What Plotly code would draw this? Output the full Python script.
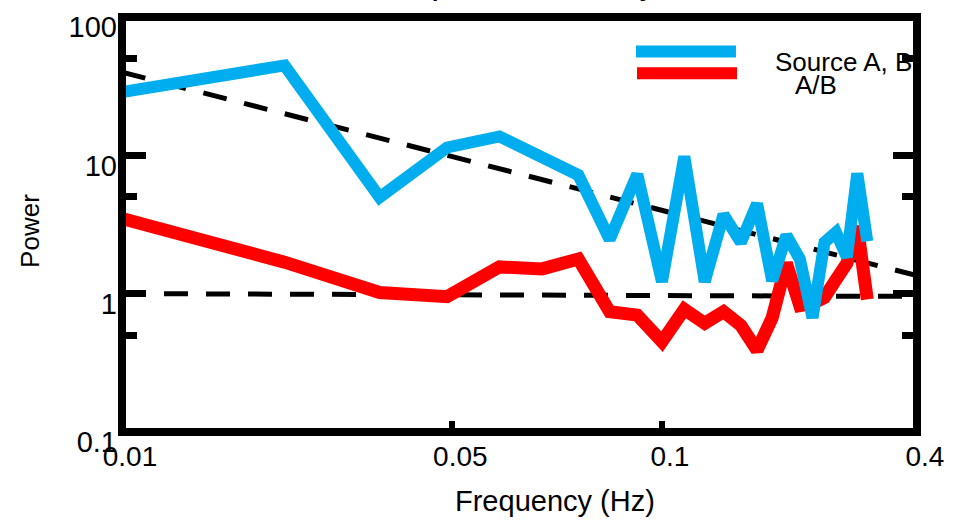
import plotly.graph_objects as go

# ---- data ----
freq = [0.01, 0.02, 0.03, 0.04, 0.05, 0.06, 0.07, 0.08, 0.09, 0.10, 0.11, 0.12,
        0.13, 0.14, 0.15, 0.16, 0.17, 0.18, 0.19, 0.20, 0.21, 0.22, 0.23, 0.24]
source_ab = [28.7, 44.7, 4.97, 11.4, 13.7, 9.5, 7.2, 2.47, 7.3, 1.22, 9.8, 1.22,
             3.73, 2.35, 4.47, 1.24, 2.64, 1.78, 0.67, 2.35, 2.77, 1.84, 7.4, 2.39]
ratio_ab = [3.49, 1.69, 1.02, 0.95, 1.56, 1.51, 1.78, 0.74, 0.70, 0.45, 0.77, 0.61,
            0.74, 0.59, 0.39, 0.67, 1.66, 0.82, 0.85, 0.94, 1.26, 1.66, 3.06, 0.91]
fit_x = [0.01, 0.2966]
fit_slope_y = [40.0, 1.35]
fit_flat_y = [1.0, 0.955]

xtick_vals = [0.01, 0.0409, 0.1, 0.2966]
xtick_text = ["0.01", "0.05", "0.1", "0.4"]
ytick_vals = [0.1, 1, 10, 100]
ytick_text = ["0.1", "1", "10", "100"]
yminor_vals = [0.5, 5, 50]

series_names = ["Source A, B", "A/B"]
BLUE = "#00AEEF"
RED = "#FF0000"
FONT = "Liberation Sans, Arial, sans-serif"

fig = go.Figure()
dash = "24px,18px"
fig.add_trace(go.Scatter(x=fit_x, y=fit_slope_y, mode="lines",
                         line=dict(color="black", width=5, dash=dash), showlegend=False))
fig.add_trace(go.Scatter(x=fit_x, y=fit_flat_y, mode="lines",
                         line=dict(color="black", width=5, dash=dash), showlegend=False))
fig.add_trace(go.Scatter(x=freq, y=ratio_ab, mode="lines", name=series_names[1],
                         line=dict(color=RED, width=13), showlegend=False))
fig.add_trace(go.Scatter(x=freq, y=source_ab, mode="lines", name=series_names[0],
                         line=dict(color=BLUE, width=12), showlegend=False))

xr = [-2.0, -0.5277]
fig.update_layout(
    width=968, height=520,
    margin=dict(l=122, r=51, t=11, b=88),
    paper_bgcolor="white", plot_bgcolor="white",
    font=dict(family=FONT, size=28, color="black"),
    showlegend=False,
    xaxis=dict(type="log", range=xr, showgrid=False, zeroline=False, showline=False,
               tickmode="array", tickvals=xtick_vals, ticktext=xtick_text,
               ticks="inside", ticklen=11, tickwidth=6, tickcolor="black",
               ticklabelshift=8, ticklabelstandoff=5,
               tickfont=dict(family=FONT, size=28, color="black")),
    xaxis2=dict(type="log", range=xr, overlaying="x", anchor="y", side="bottom",
                showgrid=False, zeroline=False, showline=False, showticklabels=False,
                tickmode="array", tickvals=[0.1], ticks="inside", ticklen=17,
                tickwidth=6, tickcolor="black"),
    yaxis=dict(type="log", range=[-1.0005, 2.0005], showgrid=False, zeroline=False,
               showline=False,
               tickmode="array", tickvals=ytick_vals, ticktext=ytick_text,
               ticks="inside", ticklen=24, tickwidth=7, tickcolor="black",
               mirror="allticks", ticklabelshift=10, ticklabelstandoff=4,
               minor=dict(tickmode="array", tickvals=yminor_vals, ticks="inside",
                          ticklen=15, tickwidth=7, tickcolor="black", showgrid=False),
               tickfont=dict(family=FONT, size=29, color="black")),
)

# frame
fig.add_shape(type="rect", xref="paper", yref="paper", x0=0, x1=1, y0=0, y1=1,
              line=dict(color="black", width=8), layer="above")

# legend (line samples + labels)
fig.add_shape(type="line", xref="paper", yref="paper", x0=0.6465, x1=0.7723,
              y0=0.9169, y1=0.9169, line=dict(color=BLUE, width=12))
fig.add_shape(type="line", xref="paper", yref="paper", x0=0.6478, x1=0.7736,
              y0=0.8646, y1=0.8646, line=dict(color=RED, width=12))
fig.add_annotation(text=series_names[0], xref="paper", yref="paper", x=0.8189, y=0.8907,
                   xanchor="left", yanchor="middle", showarrow=False,
                   font=dict(family=FONT, size=26, color="black"))
fig.add_annotation(text=series_names[1], xref="paper", yref="paper", x=0.844, y=0.836,
                   xanchor="left", yanchor="middle", showarrow=False,
                   font=dict(family=FONT, size=26, color="black"))

# axis titles and (cropped) chart title
fig.add_annotation(text="Power", xref="paper", yref="paper", x=-0.1157, y=0.4846,
                   textangle=-90, xanchor="center", yanchor="middle", showarrow=False,
                   font=dict(family=FONT, size=26, color="black"))
fig.add_annotation(text="Frequency (Hz)", xref="paper", yref="paper", x=0.5447, y=-0.1663,
                   xanchor="center", yanchor="middle", showarrow=False,
                   font=dict(family=FONT, size=29, color="black"))
fig.add_annotation(text="Spectral density", xref="paper", yref="paper", x=0.517, y=1.0345,
                   xanchor="center", yanchor="bottom", showarrow=False,
                   font=dict(family=FONT, size=35, color="black"))

fig.write_html("out.html", config={"displayModeBar": False},
               post_script="document.body.style.margin='0';document.body.style.overflow='hidden';")
